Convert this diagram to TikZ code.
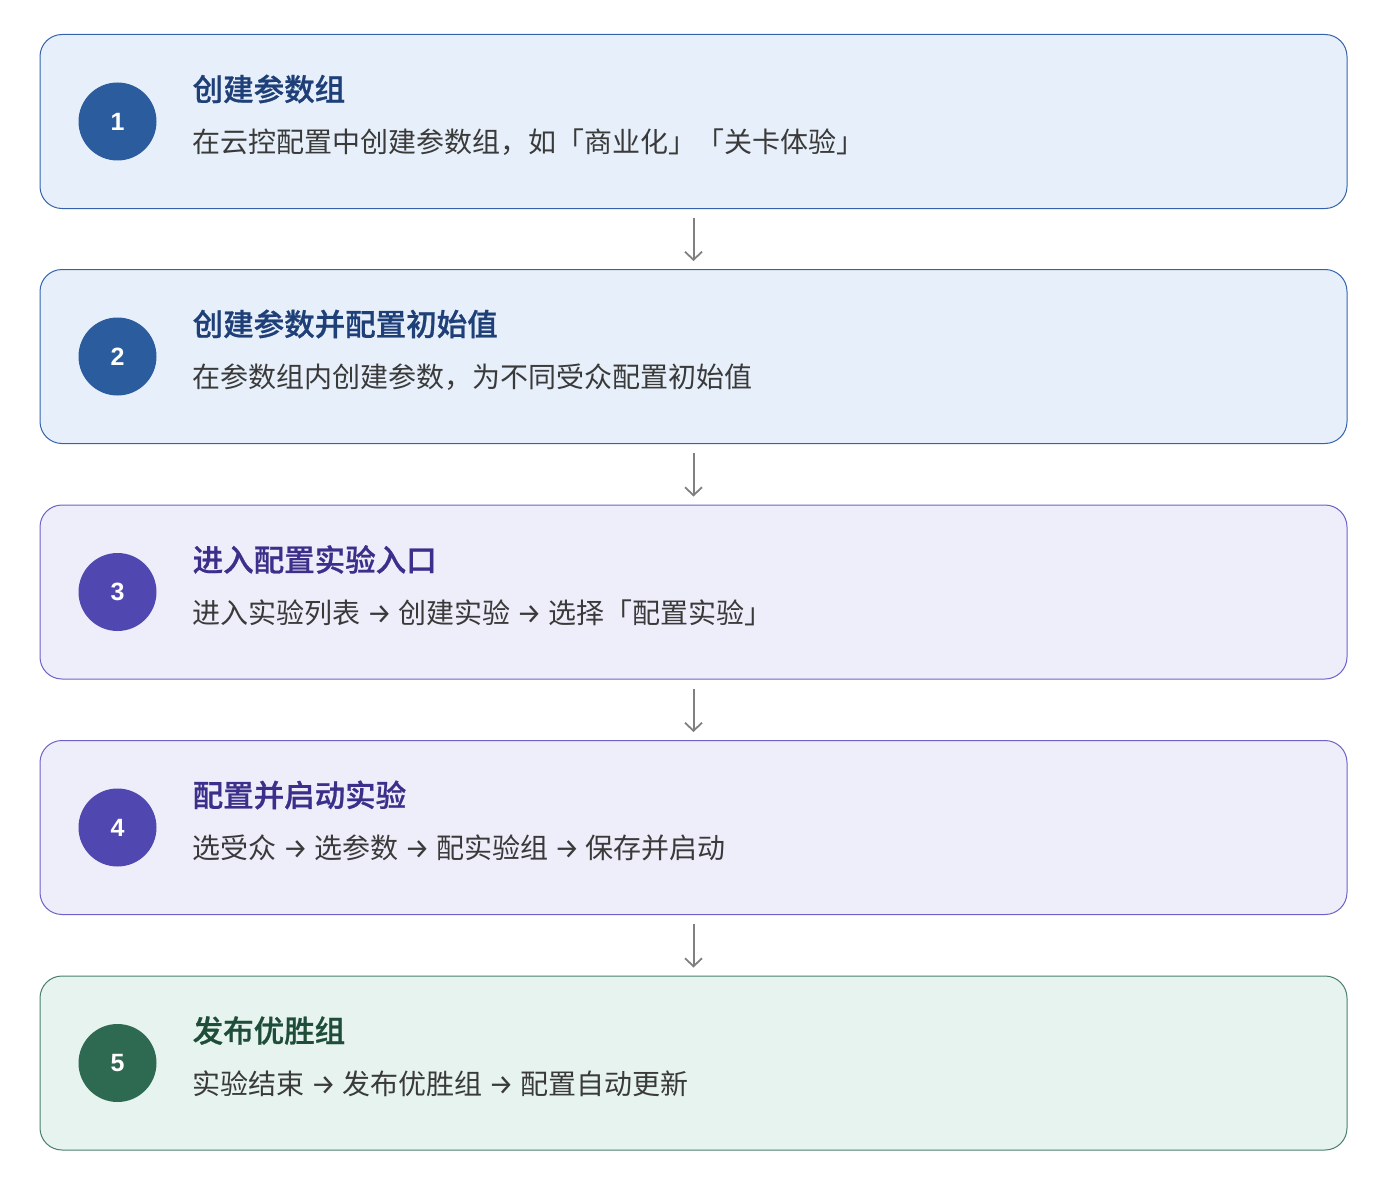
\documentclass[tikz,border=0pt]{standalone}
\usepackage{fontspec}
\setmainfont{Noto Sans CJK SC}
\newfontfamily\titlefont[FakeBold=0.8]{Noto Sans CJK SC Medium}
\newfontfamily\arrowfont{Fira Sans}
\newfontfamily\digitfont{Liberation Sans}
\usepackage{tikz}
\usetikzlibrary{arrows.meta, positioning}

\definecolor{bluefill}{HTML}{E7F0FA}
\definecolor{blueline}{HTML}{3463AC}
\definecolor{bluedot}{HTML}{2B5C9E}
\definecolor{bluetext}{HTML}{1F3F78}
\definecolor{purpfill}{HTML}{EEEDFA}
\definecolor{purpline}{HTML}{6C62C9}
\definecolor{purpdot}{HTML}{5147B0}
\definecolor{purptext}{HTML}{3A2F8A}
\definecolor{greenfill}{HTML}{E6F3EE}
\definecolor{greenline}{HTML}{4A806A}
\definecolor{greendot}{HTML}{2E6A52}
\definecolor{greentext}{HTML}{1E4D3A}
\definecolor{bodytext}{HTML}{3A3A3A}
\definecolor{arrowgray}{HTML}{808080}

\newcommand{\nxt}{ {\arrowfont\fontsize{28}{32}\selectfont →} }

\begin{document}
\begin{tikzpicture}[
    x=1pt, y=-1pt,
    stepbox/.style={rectangle, rounded corners=22pt, line width=1pt, minimum width=1307pt, minimum height=174pt},
    bluebox/.style={stepbox, draw=blueline, fill=bluefill},
    purpbox/.style={stepbox, draw=purpline, fill=purpfill},
    greenbox/.style={stepbox, draw=greenline, fill=greenfill},
    dot/.style={circle, minimum size=78pt, inner sep=0pt, text=white, font=\digitfont\fontsize{25}{28}\selectfont\bfseries},
    title/.style={anchor=west, inner sep=0pt, font=\titlefont\fontsize{30.5}{34}\selectfont},
    desc/.style={anchor=west, inner sep=0pt, text=bodytext, font=\fontsize{28}{32}\selectfont},
    arrow/.style={-{Straight Barb[length=8pt, width=17pt, line width=1.8pt]}, line width=2pt, draw=arrowgray}
]
\useasboundingbox (0,0) rectangle (1390,1188);

% === Step boxes ===
\node[bluebox] (b1) at (693.5, 121.5) {};
\node[bluebox] (b2) at (693.5, 356.5) {};
\node[purpbox] (b3) at (693.5, 592) {};
\node[purpbox] (b4) at (693.5, 827.5) {};
\node[greenbox] (b5) at (693.5, 1063) {};

% === Number dots ===
\node[dot, fill=bluedot] (n1) at ([xshift=78pt]b1.west) {1};
\node[dot, fill=bluedot] (n2) at ([xshift=78pt]b2.west) {2};
\node[dot, fill=purpdot] (n3) at ([xshift=78pt]b3.west) {3};
\node[dot, fill=purpdot] (n4) at ([xshift=78pt]b4.west) {4};
\node[dot, fill=greendot] (n5) at ([xshift=78pt]b5.west) {5};

% === Titles ===
\node[title, text=bluetext] (t1) at ([xshift=153pt, yshift=32.5pt]b1.west) {创建参数组};
\node[title, text=bluetext] (t2) at ([xshift=153pt, yshift=32.5pt]b2.west) {创建参数并配置初始值};
\node[title, text=purptext] (t3) at ([xshift=153pt, yshift=32.5pt]b3.west) {进入配置实验入口};
\node[title, text=purptext] (t4) at ([xshift=153pt, yshift=32.5pt]b4.west) {配置并启动实验};
\node[title, text=greentext] (t5) at ([xshift=153pt, yshift=32.5pt]b5.west) {发布优胜组};

% === Descriptions ===
\node[desc] (d1) at ([xshift=153pt, yshift=-20.5pt]b1.west) {在云控配置中创建参数组，如「商业化」「关卡体验」};
\node[desc] (d2) at ([xshift=153pt, yshift=-20.5pt]b2.west) {在参数组内创建参数，为不同受众配置初始值};
\node[desc] (d3) at ([xshift=153pt, yshift=-20.5pt]b3.west) {进入实验列表\nxt{}创建实验\nxt{}选择「配置实验」};
\node[desc] (d4) at ([xshift=153pt, yshift=-20.5pt]b4.west) {选受众\nxt{}选参数\nxt{}配实验组\nxt{}保存并启动};
\node[desc] (d5) at ([xshift=153pt, yshift=-20.5pt]b5.west) {实验结束\nxt{}发布优胜组\nxt{}配置自动更新};

% === Arrows ===
\draw[arrow] ([yshift=-9pt]b1.south) -- ([yshift=8pt]b2.north);
\draw[arrow] ([yshift=-9pt]b2.south) -- ([yshift=8pt]b3.north);
\draw[arrow] ([yshift=-9pt]b3.south) -- ([yshift=8pt]b4.north);
\draw[arrow] ([yshift=-9pt]b4.south) -- ([yshift=8pt]b5.north);

\end{tikzpicture}
\end{document}
